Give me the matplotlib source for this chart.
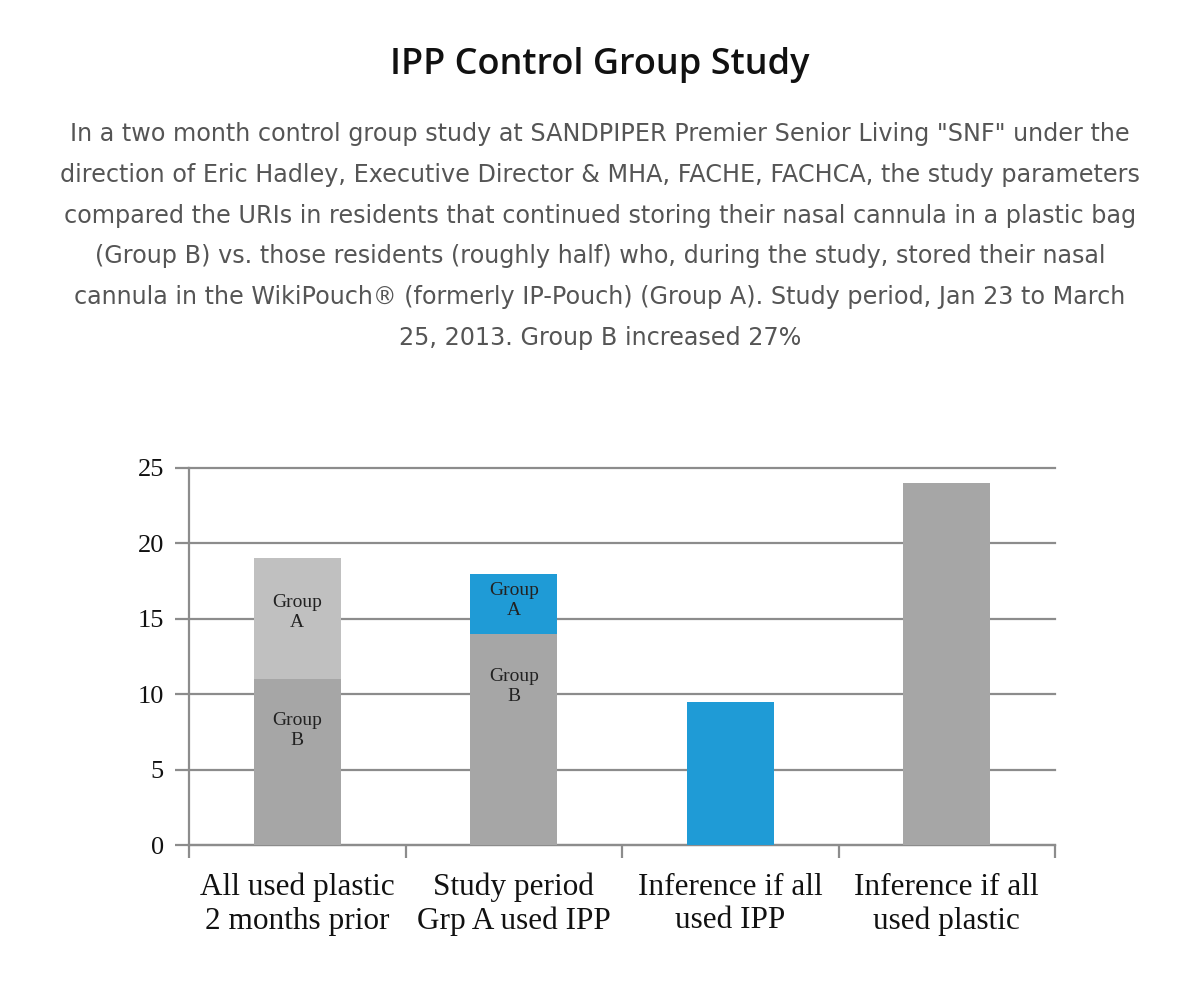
import matplotlib.pyplot as plt
import numpy as np

categories = ["All used plastic\n2 months prior", "Study period\nGrp A used IPP",
              "Inference if all\nused IPP", "Inference if all\nused plastic"]
group_b = [11, 14, 0, 0]
group_a = [8, 4, 0, 0]
single = [0, 0, 9.5, 24]

title = "IPP Control Group Study"
para_lines = [
    'In a two month control group study at SANDPIPER Premier Senior Living "SNF" under the',
    'direction of Eric Hadley, Executive Director & MHA, FACHE, FACHCA, the study parameters',
    'compared the URIs in residents that continued storing their nasal cannula in a plastic bag',
    '(Group B) vs. those residents (roughly half) who, during the study, stored their nasal',
    'cannula in the WikiPouch\u00ae (formerly IP-Pouch) (Group A). Study period, Jan 23 to March',
    '25, 2013. Group B increased 27%',
]

grey_dark = "#a6a6a6"
grey_light = "#c0c0c0"
blue = "#1f9bd6"
serif = "Liberation Serif"

fig = plt.figure(figsize=(12, 9.9), dpi=100)
fig.text(0.5, 1 - 65 / 990, title, ha="center", va="center", fontsize=26,
         fontweight="semibold", family="Open Sans", color="#111111")
for i, line in enumerate(para_lines):
    fig.text(0.5, 1 - (134 + 40.8 * i) / 990, line, ha="center", va="center",
             fontsize=17.2, family="DejaVu Sans", color="#555555")

ax = fig.add_axes([189 / 1200, 1 - 845 / 990, (1055 - 189) / 1200, (845 - 468) / 990])
x = np.arange(len(categories))
w = 0.4

ax.bar(x[:2], group_b[:2], width=w, color=grey_dark, zorder=3)
ax.bar(x[:2], group_a[:2], bottom=group_b[:2], width=w,
       color=[grey_light, blue], zorder=3)
ax.bar(x[2:], single[2:], width=w, color=[blue, grey_dark], zorder=3)

# labels inside stacked bars
lab_kw = dict(ha="center", va="center", fontsize=14, family=serif,
              color="#222222", linespacing=1.25, zorder=4)
ax.text(x[0], group_b[0] + group_a[0] * 0.55, "Group\nA", **lab_kw)
ax.text(x[0], group_b[0] * 0.69, "Group\nB", **lab_kw)
ax.text(x[1], group_b[1] + group_a[1] * 0.55, "Group\nA", **lab_kw)
ax.text(x[1], group_b[1] * 0.75, "Group\nB", **lab_kw)

ax.set_xlim(-0.5, 3.5)
ax.set_ylim(0, 25)
ax.set_yticks(range(0, 26, 5))
ax.yaxis.grid(True, color="#8c8c8c", linewidth=1.6, zorder=0)
ax.set_axisbelow(True)
for gl in ax.get_ygridlines():
    gl.set_clip_on(False)

for s in ["top", "right"]:
    ax.spines[s].set_visible(False)
ax.spines["left"].set_color("#8c8c8c")
ax.spines["bottom"].set_color("#8c8c8c")
ax.spines["left"].set_linewidth(1.6)
ax.spines["bottom"].set_linewidth(1.6)

ax.set_xticks(x)
ax.set_xticklabels(categories, fontsize=22.5, family=serif, color="#111111",
                   linespacing=1.2)
ax.tick_params(axis="x", which="major", length=0, pad=20)
ax.set_xticks(np.arange(-0.5, 4, 1), minor=True)
ax.tick_params(axis="x", which="minor", length=9, width=1.6, color="#8c8c8c")
ax.tick_params(axis="y", length=10, width=1.6, color="#8c8c8c",
               labelsize=19, pad=8)
for t in ax.get_yticklabels():
    t.set_family(serif)
    t.set_color("#111111")

fig.savefig("out.png", dpi=100)
